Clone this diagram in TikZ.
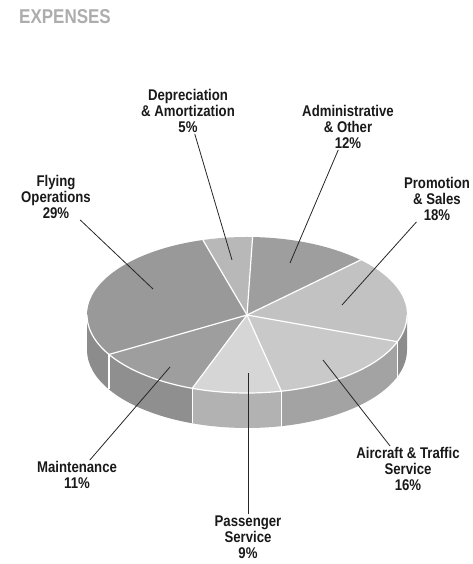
\documentclass[tikz,border=0pt]{standalone}
\usepackage{fontspec}
\newfontfamily\lblfont{Liberation Sans}[FakeStretch=0.85]
\definecolor{flyT}{gray}{0.60}
\definecolor{depT}{gray}{0.72}
\definecolor{admT}{gray}{0.62}
\definecolor{proT}{gray}{0.76}
\definecolor{airT}{gray}{0.79}
\definecolor{pasT}{gray}{0.84}
\definecolor{maiT}{gray}{0.62}
\definecolor{flyS}{gray}{0.55}
\definecolor{proS}{gray}{0.55}
\definecolor{airS}{gray}{0.64}
\definecolor{pasS}{gray}{0.70}
\definecolor{maiS}{gray}{0.56}
\tikzset{
  lbl/.style={font=\lblfont\bfseries\fontsize{15.5}{16}\selectfont, align=center, text=black!90, inner sep=1pt},
  lead/.style={black!85, line width=0.8pt},
  cut/.style={white, line width=1.2pt}
}
\begin{document}
\begin{tikzpicture}[x=1pt, y=1pt, x radius=160, y radius=78]
  \useasboundingbox (0,0) rectangle (472,564);
  \coordinate (O) at (247,249);
  % side of the disc
  \fill[proS] (O) ++(0:160 and 78) arc[start angle=0, end angle=-20] -- ++(0,-35) arc[start angle=-20, end angle=0] -- cycle;
  \fill[airS] (O) ++(-20:160 and 78) arc[start angle=-20, end angle=-77.6] -- ++(0,-35) arc[start angle=-77.6, end angle=-20] -- cycle;
  \fill[pasS] (O) ++(-77.6:160 and 78) arc[start angle=-77.6, end angle=-110] -- ++(0,-35) arc[start angle=-110, end angle=-77.6] -- cycle;
  \fill[maiS] (O) ++(-110:160 and 78) arc[start angle=-110, end angle=-149.6] -- ++(0,-35) arc[start angle=-149.6, end angle=-110] -- cycle;
  \fill[flyS] (O) ++(-149.6:160 and 78) arc[start angle=-149.6, end angle=-180] -- ++(0,-35) arc[start angle=-180, end angle=-149.6] -- cycle;
  % top face
  \fill[depT] (O) -- ++(106:160 and 78) arc[start angle=106, end angle=88] -- cycle;
  \fill[admT] (O) -- ++(88:160 and 78) arc[start angle=88, end angle=44.8] -- cycle;
  \fill[proT] (O) -- ++(44.8:160 and 78) arc[start angle=44.8, end angle=-20] -- cycle;
  \fill[airT] (O) -- ++(-20:160 and 78) arc[start angle=-20, end angle=-77.6] -- cycle;
  \fill[pasT] (O) -- ++(-77.6:160 and 78) arc[start angle=-77.6, end angle=-110] -- cycle;
  \fill[maiT] (O) -- ++(-110:160 and 78) arc[start angle=-110, end angle=-149.6] -- cycle;
  \fill[flyT] (O) -- ++(-149.6:160 and 78) arc[start angle=-149.6, end angle=-254] -- cycle;
  % white cuts
  \foreach \a in {106,88,44.8,-20,-77.6,-110,-149.6}
    \draw[cut] (O) -- ++(\a:160 and 78);
  \foreach \a in {-20,-77.6,-110,-149.6}
    \draw[cut] (O) ++(\a:160 and 78) -- ++(0,-35);
  \draw[cut] (O) ++(0:160 and 78) arc[start angle=0, end angle=-180];
  % title
  \node (ttl) at (65,547) [font=\lblfont\bfseries\fontsize{20}{20}\selectfont, text=black!32] {EXPENSES};
  % labels
  \node (dep) at (188,453) [lbl] {Depreciation\\\& Amortization\\5\%};
  \node (adm) at (348,437) [lbl] {Administrative\\\& Other\\12\%};
  \node (pro) at (437,365) [lbl] {Promotion\\\& Sales\\18\%};
  \node (fly) at (56,367) [lbl] {Flying\\Operations\\29\%};
  \node (mai) at (77,89) [lbl] {Maintenance\\11\%};
  \node (air) at (408,95) [lbl] {Aircraft \& Traffic\\Service\\16\%};
  \node (pas) at (248,27) [lbl] {Passenger\\Service\\9\%};
  % leader ends
  \coordinate (depP) at (232,304);
  \coordinate (admP) at (290,301);
  \coordinate (proP) at (342,259);
  \coordinate (flyP) at (153,275);
  \coordinate (maiP) at (170,197);
  \coordinate (airP) at (323,204);
  \coordinate (pasP) at (248,191);
  \draw[lead] (dep) -- (depP);
  \draw[lead] (adm) -- (admP);
  \draw[lead] (pro) -- (proP);
  \draw[lead] (fly) -- (flyP);
  \draw[lead] (mai) -- (maiP);
  \draw[lead] (air) -- (airP);
  \draw[lead] (pas) -- (pasP);
\end{tikzpicture}
\end{document}
